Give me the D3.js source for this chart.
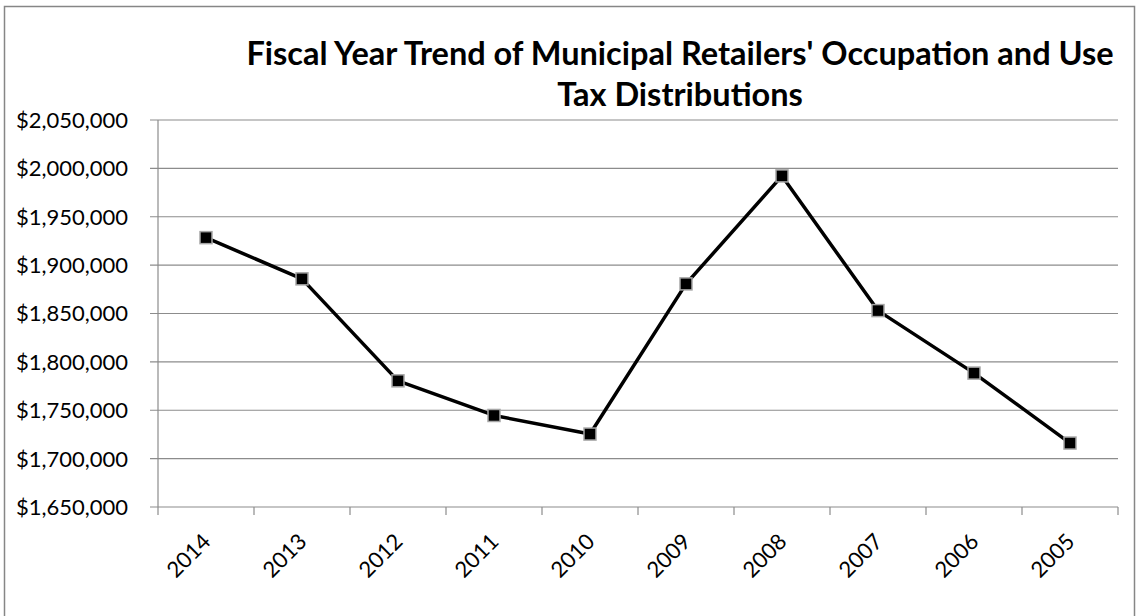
<!DOCTYPE html>
<html>
<head>
<meta charset="utf-8">
<script src="https://cdn.jsdelivr.net/npm/d3@7"></script>
<style>
  body { margin: 0; background: #fff; }
  text { font-family: Lato, "Open Sans", sans-serif; fill: #000; }
</style>
</head>
<body>
<svg id="chart" width="1139" height="616"></svg>
<script>
// fiscal years, newest first as in the source
const years = ["2014", "2013", "2012", "2011", "2010", "2009", "2008", "2007", "2006", "2005"];
const distributions = [1928400, 1885800, 1780400, 1744600, 1725400, 1880600, 1992200, 1853000, 1788400, 1716100];
const yTicks = [1650000, 1700000, 1750000, 1800000, 1850000, 1900000, 1950000, 2000000, 2050000];
const titleLines = ["Fiscal Year Trend of Municipal Retailers' Occupation and Use", "Tax Distributions"];

const svg = d3.select("#chart");

// outer chart border
svg.append("rect")
  .attr("x", 4.5).attr("y", 6.5)
  .attr("width", 1130).attr("height", 620)
  .attr("fill", "#fff")
  .attr("stroke", "#868686")
  .attr("stroke-width", 1.5);

const plot = { left: 158, right: 1118, top: 120, bottom: 507 };

const x = d3.scaleBand().domain(years).range([plot.left, plot.right]);
const y = d3.scaleLinear().domain([1650000, 2050000]).range([plot.bottom, plot.top]);
const fmt = d3.format("$,");

// gridlines
svg.append("g")
  .selectAll("line")
  .data(yTicks)
  .enter()
  .append("line")
  .attr("x1", plot.left - 8)
  .attr("x2", plot.right)
  .attr("y1", (d) => y(d))
  .attr("y2", (d) => y(d))
  .attr("stroke", "#8c8c8c")
  .attr("stroke-width", 1.2);

// y axis line
svg.append("line")
  .attr("x1", plot.left).attr("x2", plot.left)
  .attr("y1", plot.top).attr("y2", plot.bottom)
  .attr("stroke", "#8c8c8c")
  .attr("stroke-width", 1.2);

// y labels
svg.append("g")
  .selectAll("text")
  .data(yTicks)
  .enter()
  .append("text")
  .attr("x", 128)
  .attr("y", (d) => y(d))
  .attr("dy", "0.36em")
  .attr("text-anchor", "end")
  .style("font-size", "22px")
  .text((d) => fmt(d));

// x axis with tick marks on band edges
const edges = years.map((d) => x(d)).concat([plot.right]);
svg.append("g")
  .selectAll("line")
  .data(edges)
  .enter()
  .append("line")
  .attr("x1", (d) => d).attr("x2", (d) => d)
  .attr("y1", plot.bottom).attr("y2", plot.bottom + 8)
  .attr("stroke", "#8c8c8c")
  .attr("stroke-width", 1.2);

svg.append("g")
  .selectAll("text")
  .data(years)
  .enter()
  .append("text")
  .attr("transform", (d) => `translate(${x(d) + x.bandwidth() / 2 + 6},${plot.bottom + 36}) rotate(-45)`)
  .attr("text-anchor", "end")
  .style("font-size", "22px")
  .text((d) => d);

// line
const pts = years.map((d, i) => [x(d) + x.bandwidth() / 2, y(distributions[i])]);
svg.append("path")
  .attr("d", d3.line()(pts))
  .attr("fill", "none")
  .attr("stroke", "#000")
  .attr("stroke-width", 3.5)
  .attr("stroke-linejoin", "round");

// square markers
svg.append("g")
  .selectAll("rect")
  .data(pts)
  .enter()
  .append("rect")
  .attr("x", (d) => d[0] - 6)
  .attr("y", (d) => d[1] - 6)
  .attr("width", 12)
  .attr("height", 12)
  .attr("fill", "#000")
  .attr("stroke", "#a6a6a6")
  .attr("stroke-width", 1.5);

// title
svg.append("g")
  .selectAll("text")
  .data(titleLines)
  .enter()
  .append("text")
  .attr("x", 680)
  .attr("y", (d, i) => 65 + i * 41)
  .attr("text-anchor", "middle")
  .style("font-size", "32.5px")
  .style("font-weight", "bold")
  .text((d) => d);
</script>
</body>
</html>
